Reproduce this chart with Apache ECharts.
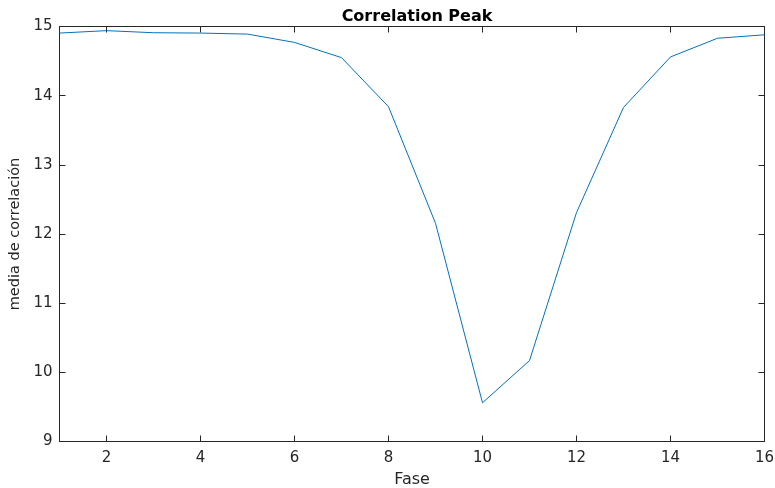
<!DOCTYPE html>
<html>
<head>
<meta charset="utf-8">
<script src="https://cdn.jsdelivr.net/npm/echarts@6/dist/echarts.min.js"></script>
<style>
  html, body { margin: 0; padding: 0; background: #fff; }
  #chart { width: 775px; height: 488px; }
</style>
</head>
<body>
<div id="chart"></div>
<script>
// datos
var fase = [1, 2, 3, 4, 5, 6, 7, 8, 9, 10, 11, 12, 13, 14, 15, 16];
var media = [14.905, 14.94, 14.91, 14.905, 14.89, 14.77, 14.55, 13.84, 12.155,
             9.56, 10.17, 12.31, 13.83, 14.56, 14.83, 14.88];
var xTicks = [2, 4, 6, 8, 10, 12, 14, 16];
var yTicks = [9, 10, 11, 12, 13, 14, 15];

var chart = echarts.init(document.getElementById('chart'));

var ejeColor = '#262626';
var font = 'DejaVu Sans, sans-serif';

var option = {
    animation: false,
    title: {
        text: 'Correlation Peak',
        left: 412,
        textAlign: 'center',
        top: 4,
        textStyle: { fontFamily: font, fontSize: 16, fontWeight: 'bold', color: '#000' }
    },
    grid: { left: 59.5, right: 10.5, top: 26.5, bottom: 46.5, outerBoundsMode: 'none' },
    xAxis: [{
        type: 'value',
        min: 1, max: 16,
        name: 'Fase',
        nameLocation: 'middle',
        nameGap: 30,
        nameTextStyle: { fontFamily: font, fontSize: 16, color: ejeColor },
        axisLine: { show: true, lineStyle: { color: ejeColor, width: 1 } },
        axisTick: { show: true, inside: true, length: 6, customValues: xTicks, lineStyle: { color: ejeColor } },
        axisLabel: { customValues: xTicks, margin: 9, fontFamily: font, fontSize: 15, color: ejeColor },
        splitLine: { show: false }
    }, {
        type: 'value',
        position: 'top',
        min: 1, max: 16,
        axisLine: { show: true, onZero: false, lineStyle: { color: ejeColor, width: 1 } },
        axisTick: { show: true, inside: true, length: 6, customValues: xTicks, lineStyle: { color: ejeColor } },
        axisLabel: { show: false },
        splitLine: { show: false }
    }],
    yAxis: [{
        type: 'value',
        min: 9, max: 15, interval: 1,
        name: 'media de correlación',
        nameLocation: 'middle',
        nameRotate: 90,
        nameGap: 32,
        nameTextStyle: { fontFamily: font, fontSize: 14.5, color: ejeColor },
        axisLine: { show: true, lineStyle: { color: ejeColor, width: 1 } },
        axisTick: { show: true, inside: true, length: 6, customValues: yTicks, lineStyle: { color: ejeColor } },
        axisLabel: { margin: 7, fontFamily: font, fontSize: 15, color: ejeColor },
        splitLine: { show: false }
    }, {
        type: 'value',
        position: 'right',
        min: 9, max: 15, interval: 1,
        axisLine: { show: true, onZero: false, lineStyle: { color: ejeColor, width: 1 } },
        axisTick: { show: true, inside: true, length: 6, lineStyle: { color: ejeColor } },
        axisLabel: { show: false },
        splitLine: { show: false }
    }],
    series: [{
        type: 'line',
        data: fase.map(function (f, i) { return [f, media[i]]; }),
        showSymbol: false,
        lineStyle: { color: '#0072BD', width: 1 },
        itemStyle: { color: '#0072BD' }
    }]
};
chart.setOption(option);
</script>
</body>
</html>
